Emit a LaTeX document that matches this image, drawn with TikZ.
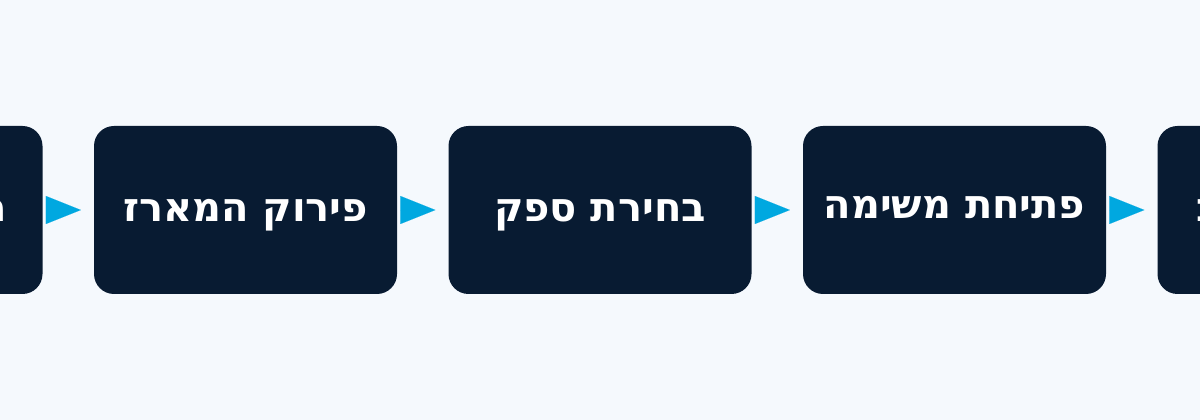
\documentclass[tikz,border=0pt]{standalone}
\usepackage{fontspec}
\usetikzlibrary{arrows.meta}
\TeXXeTstate=1
\newfontfamily\hebfont[Script=Hebrew]{DejaVu Sans}
\definecolor{bgc}{HTML}{F5F9FD}
\definecolor{boxc}{HTML}{081B32}
\definecolor{arrc}{HTML}{00A8E0}
\tikzset{
  stepbox/.style={fill=boxc, draw=none, rounded corners=20pt, minimum width=303pt, minimum height=168pt, inner sep=0pt, text=white, text height=23.4pt, text depth=0pt, font=\hebfont\bfseries\fontsize{40}{46}\selectfont},
  frag/.style={inner sep=0pt, text=white, font=\hebfont\bfseries\fontsize{40}{46}\selectfont},
  flow/.style={arrc, line width=0.01pt, shorten <=3.5pt, shorten >=13pt, -{Triangle[length=35pt,width=28pt]}}
}
\begin{document}
\begin{tikzpicture}[x=1pt,y=1pt]
\useasboundingbox (0,0) rectangle (1200,420);
\clip (0,0) rectangle (1200,420);
\fill[bgc] (0,0) rectangle (1200,420);
\node[stepbox] (b0) at (-109,210) {};
\node[stepbox] (b1) at (245.5,210) {\beginR פירוק המארז\endR};
\node[stepbox] (b2) at (600,210) {\beginR בחירת ספק\endR};
\node[stepbox, text height=18pt] (b3) at (954.5,210) {\beginR פתיחת משימה\endR};
\node[stepbox] (b4) at (1309,210) {};
\node[frag, anchor=base east] (f0) at (7,198.3) {\beginR ה\endR};
\node[frag, anchor=base west] (f4) at (1196,198.3) {\beginR ב\endR};
\draw[flow] (b0) -- (b1);
\draw[flow] (b1) -- (b2);
\draw[flow] (b2) -- (b3);
\draw[flow] (b3) -- (b4);
\end{tikzpicture}
\end{document}
